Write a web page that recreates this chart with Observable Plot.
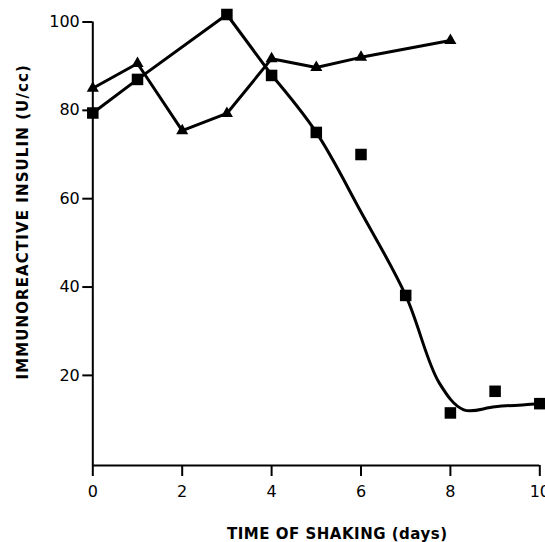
<!DOCTYPE html>
<html>
<head>
<meta charset="utf-8">
<script src="https://cdn.jsdelivr.net/npm/d3@7"></script>
<script src="https://cdn.jsdelivr.net/npm/@observablehq/plot@0.6"></script>
<style>
  body { margin: 0; background: #fff; }
  .lbl text { letter-spacing: 0.5px; }
  .ylbl text { letter-spacing: 1.1px; }
</style>
</head>
<body>
<div id="chart"></div>
<script>
// Triangle series
const triDays = [0, 1, 2, 3, 4, 5, 6, 8];
const triValues = [85.0, 90.6, 75.4, 79.3, 91.7, 89.7, 92.0, 95.8];

// Square series
const sqDays = [0, 1, 3, 4, 5, 6, 7, 8, 9, 10];
const sqValues = [79.4, 87.0, 101.7, 87.9, 75.0, 70.0, 38.1, 11.5, 16.4, 13.6];

// Square connecting line: straight part and drawn smooth fit
const sqLineDays = [0, 1, 3, 4];
const sqLineValues = [79.4, 87.0, 101.7, 88.0];
const fitDays = [4, 5, 6, 7, 7.75, 8.3, 9, 10];
const fitValues = [88.0, 75.0, 57.0, 38.1, 18.3, 12.2, 12.9, 13.6];

const xTicks = [0, 2, 4, 6, 8, 10];
const yTicks = [20, 40, 60, 80, 100];
const yMin = -0.4, yMax = 100;
const xLabel = "TIME OF SHAKING (days)";
const yLabel = "IMMUNOREACTIVE INSULIN (U/cc)";

const tri = triDays.map((d, i) => ({day: d, value: triValues[i]}));
const sq = sqDays.map((d, i) => ({day: d, value: sqValues[i]}));
const sqLine = sqLineDays.map((d, i) => ({day: d, value: sqLineValues[i]}));
const fit = fitDays.map((d, i) => ({day: d, value: fitValues[i]}));

const chart = Plot.plot({
  width: 545,
  height: 542,
  marginLeft: 92.3,
  marginRight: 5.7,
  marginTop: 21.5,
  marginBottom: 77,
  style: {fontFamily: "DejaVu Sans", fontSize: "16px", color: "#000", background: "#fff"},
  x: {domain: [0, 10], ticks: xTicks, tickSize: 11, tickPadding: 9, label: null, tickFormat: d => String(d)},
  y: {domain: [yMin, yMax], ticks: yTicks, tickSize: 10, tickPadding: 3, label: null},
  marks: [
    Plot.ruleX([0], {stroke: "#000", strokeWidth: 2}),
    Plot.ruleY([yMin], {stroke: "#000", strokeWidth: 2}),
    Plot.axisX({ticks: xTicks, tickSize: 11, tickPadding: 9, label: null, strokeWidth: 2, fontSize: 16, tickFormat: d => String(d)}),
    Plot.axisY({ticks: yTicks, tickSize: 10, tickPadding: 3, label: null, strokeWidth: 2, fontSize: 16}),
    Plot.line(tri, {x: "day", y: "value", stroke: "#000", strokeWidth: 3}),
    Plot.line(sqLine, {x: "day", y: "value", stroke: "#000", strokeWidth: 3}),
    Plot.line(fit, {x: "day", y: "value", stroke: "#000", strokeWidth: 3, curve: "catmull-rom"}),
    Plot.dot(tri, {x: "day", y: "value", symbol: "triangle", r: 4.5, fill: "#000", stroke: "none"}),
    Plot.dot(sq, {x: "day", y: "value", symbol: "square", r: 6.5, fill: "#000", stroke: "none"}),
    Plot.text([xLabel], {frameAnchor: "bottom", text: d => d, dx: 21, dy: 69, textAnchor: "middle", lineAnchor: "middle", fontWeight: "bold", fontSize: 15, className: "lbl"}),
    Plot.text([yLabel], {frameAnchor: "left", text: d => d, rotate: -90, dx: -70, dy: -22, textAnchor: "middle", lineAnchor: "middle", fontWeight: "bold", fontSize: 15, className: "ylbl"})
  ]
});
document.getElementById("chart").appendChild(chart);
</script>
</body>
</html>
